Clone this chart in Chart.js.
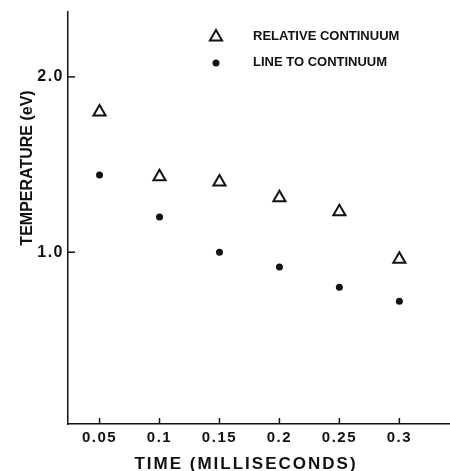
<!DOCTYPE html>
<html>
<head>
<meta charset="utf-8">
<script src="https://cdn.jsdelivr.net/npm/chart.js@4/dist/chart.umd.min.js"></script>
<style>
  html, body { margin: 0; padding: 0; background: #fff; overflow: hidden; }
  canvas { display: block; }
</style>
</head>
<body>
<canvas id="temp-chart" width="450" height="471"></canvas>
<script>
const times = [0.05, 0.1, 0.15, 0.2, 0.25, 0.3];
const relativeContinuum = [1.80, 1.43, 1.40, 1.31, 1.23, 0.96];
const lineToContinuum = [1.44, 1.20, 1.00, 0.915, 0.80, 0.72];

const xTicks = [0.05, 0.1, 0.15, 0.2, 0.25, 0.3];
const xTickLabels = ["0.05", "0.1", "0.15", "0.2", "0.25", "0.3"];
const yTicks = [1.0, 2.0];
const yTickLabels = ["1.0", "2.0"];

const seriesLabels = ["RELATIVE CONTINUUM", "LINE TO CONTINUUM"];
const xTitle = "TIME (MILLISECONDS)";
const yTitle = "TEMPERATURE (eV)";

const ink = "#111";

function toPoints(ys) {
    return times.map((t, i) => ({ x: t, y: ys[i] }));
}

// small marker for the hand-drawn legend, same look as the dataset
function drawMarker(ctx, ds, x, y) {
    ctx.save();
    ctx.beginPath();
    if (ds.pointStyle === "triangle") {
        const r = ds.pointRadius;
        for (let k = 0; k < 3; k++) {
            const a = k * 2 * Math.PI / 3;
            ctx.lineTo(x + Math.sin(a) * r, y - Math.cos(a) * r);
        }
        ctx.closePath();
        ctx.fillStyle = ds.backgroundColor;
        ctx.fill();
        ctx.lineWidth = ds.borderWidth;
        ctx.strokeStyle = ds.borderColor;
        ctx.stroke();
    } else {
        ctx.arc(x, y, ds.pointRadius, 0, 2 * Math.PI);
        ctx.fillStyle = ds.backgroundColor;
        ctx.fill();
    }
    ctx.restore();
}

// inward tick marks, axis titles and legend as on the original figure
const paperStyle = {
    id: "paperStyle",
    beforeDraw(chart) {
        chart.ctx.letterSpacing = "1.5px";
    },
    afterDraw(chart) {
        const { ctx, chartArea, scales } = chart;
        ctx.save();
        ctx.strokeStyle = ink;
        ctx.lineWidth = 1.5;
        scales.x.ticks.forEach((t) => {
            const px = scales.x.getPixelForValue(t.value);
            ctx.beginPath();
            ctx.moveTo(px, chartArea.bottom);
            ctx.lineTo(px, chartArea.bottom - 6);
            ctx.stroke();
        });
        scales.y.ticks.forEach((t) => {
            const py = scales.y.getPixelForValue(t.value);
            ctx.beginPath();
            ctx.moveTo(chartArea.left, py);
            ctx.lineTo(chartArea.left + 7, py);
            ctx.stroke();
        });

        ctx.fillStyle = ink;
        ctx.font = "bold 17px 'Liberation Sans'";
        ctx.letterSpacing = "2px";
        ctx.textAlign = "center";
        ctx.textBaseline = "alphabetic";
        ctx.fillText(xTitle, 246, 469);

        ctx.save();
        ctx.letterSpacing = "0px";
        ctx.font = "bold 16px 'Liberation Sans'";
        ctx.translate(32, 168);
        ctx.rotate(-Math.PI / 2);
        ctx.fillText(yTitle, 0, 0);
        ctx.restore();

        ctx.letterSpacing = "0px";
        ctx.font = "bold 13px 'Liberation Sans'";
        ctx.textAlign = "left";
        ctx.textBaseline = "middle";
        chart.data.datasets.forEach((ds, i) => {
            const y = 36 + i * 26;
            drawMarker(ctx, ds, 216, y + 1);
            ctx.fillText(ds.label, 253, y);
        });
        ctx.restore();
    },
};

const canvas = document.querySelector("#temp-chart");

new Chart(canvas, {
    type: "scatter",
    data: {
        datasets: [
            {
                label: seriesLabels[0],
                data: toPoints(relativeContinuum),
                pointStyle: "triangle",
                pointRadius: 7,
                pointHoverRadius: 7,
                borderWidth: 2,
                borderColor: ink,
                backgroundColor: "#fff",
            },
            {
                label: seriesLabels[1],
                data: toPoints(lineToContinuum),
                pointStyle: "circle",
                pointRadius: 3.5,
                pointHoverRadius: 3.5,
                borderWidth: 0,
                borderColor: ink,
                backgroundColor: ink,
            },
        ],
    },
    options: {
        responsive: false,
        animation: false,
        layout: {
            autoPadding: false,
            padding: { top: 12, right: 1, left: 0, bottom: 0 },
        },
        plugins: {
            legend: { display: false },
            tooltip: { enabled: false },
        },
        scales: {
            x: {
                type: "linear",
                min: 0.0237,
                max: 0.3414,
                grid: { display: false, drawTicks: false },
                border: { color: ink, width: 1.5 },
                afterBuildTicks: (s) => { s.ticks = xTicks.map((v) => ({ value: v })); },
                afterFit: (s) => {
                    s.height = 47;
                    s.paddingLeft = 0;
                    s.paddingRight = 0;
                },
                ticks: {
                    padding: 5,
                    color: ink,
                    font: { family: "'Liberation Sans'", size: 15, weight: "bold" },
                    callback: (v, i) => xTickLabels[i],
                },
            },
            y: {
                type: "linear",
                min: 0.02,
                max: 2.37,
                grid: { display: false, drawTicks: false },
                border: { color: ink, width: 1.5 },
                afterBuildTicks: (s) => { s.ticks = yTicks.map((v) => ({ value: v })); },
                afterFit: (s) => {
                    s.width = 68;
                    s.paddingTop = 0;
                    s.paddingBottom = 0;
                },
                ticks: {
                    padding: 4,
                    color: ink,
                    font: { family: "'Liberation Sans'", size: 16, weight: "bold" },
                    callback: (v, i) => yTickLabels[i],
                },
            },
        },
    },
    plugins: [paperStyle],
});
</script>
</body>
</html>
